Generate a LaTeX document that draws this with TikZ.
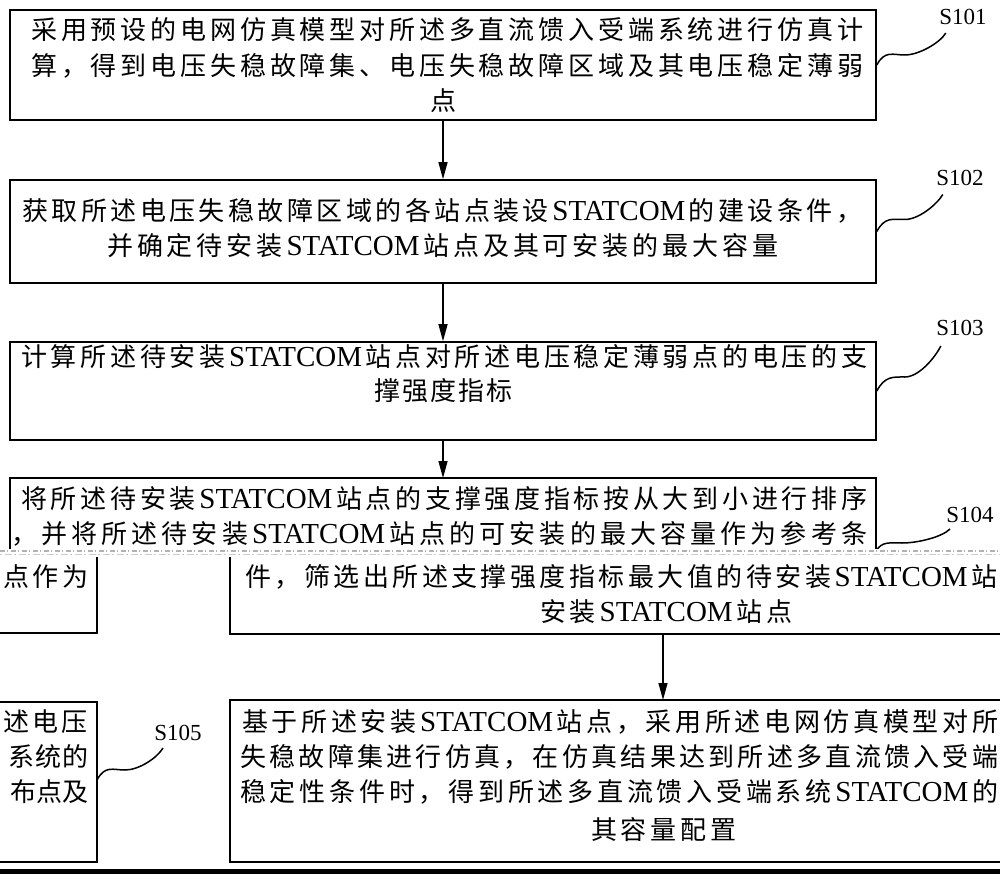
\documentclass[tikz,border=0pt]{standalone}
\usepackage{fontspec}
\setmainfont{Liberation Serif}
\newfontfamily\cjk{Noto Sans CJK SC}
\usetikzlibrary{arrows.meta}
\ExplSyntaxOn
\NewDocumentCommand\spreadline{mm}{\hbox_to_wd:nn{#1}{\tl_map_inline:nn{#2}{##1\hfil}\unskip}}
\ExplSyntaxOff
\newcommand\stc{{\rmfamily\fontsize{29}{29}\selectfont STATCOM}}
\begin{document}
\begin{tikzpicture}[x=1pt,y=-1pt,
  box/.style={draw, line width=1.6pt, inner sep=0pt},
  edge/.style={line width=1.6pt},
  ln/.style={anchor=west, inner sep=0pt, font=\cjk\fontsize{26}{26}\selectfont},
  cl/.style={anchor=center, inner sep=0pt, font=\cjk\fontsize{26}{26}\selectfont},
  lab/.style={inner sep=0pt, font=\rmfamily\fontsize{23}{23}\selectfont},
  arr/.style={line width=1.3pt, -{Triangle[length=17pt,width=9pt]}},
  sq/.style={line width=1.5pt}]
\useasboundingbox (0,0) rectangle (1000,874);
\clip (0,0) rectangle (1000,874);

% ---- box 1
\node[box, minimum width=866pt, minimum height=110pt] (b1) at (443,65) {};
\node[ln] (t11) at (31,30) {\spreadline{832pt}{采用预设的电网仿真模型对所述多直流馈入受端系统进行仿真计}};
\node[ln] (t12) at (31,66) {\spreadline{832pt}{算，得到电压失稳故障集、电压失稳故障区域及其电压稳定薄弱}};
\node[cl] (t13) at (443,101) {点};
\node[lab] (l1) at (963,17) {S101};
\draw[sq] (b1.east) .. controls +(8,-15) and +(-12,0) .. ++(28,-10) .. controls +(14,0) and +(-6,10) .. ++(41,-22);

% ---- box 2
\node[box, minimum width=866pt, minimum height=103pt] (b2) at (443,231.5) {};
\node[ln] (t21) at (22,211) {\spreadline{840pt}{获取所述电压失稳故障区域的各站点装设{\stc}的建设条件，}};
\node[ln] (t22) at (107,246) {\spreadline{671pt}{并确定待安装{\stc}站点及其可安装的最大容量}};
\node[lab] (l2) at (960,178) {S102};
\draw[sq] (b2.east) .. controls +(8,-15) and +(-12,0) .. ++(28,-12) .. controls +(14,0) and +(-6,10) .. ++(38,-25);

% ---- box 3
\node[box, minimum width=866pt, minimum height=98pt] (b3) at (443,391) {};
\node[ln] (t31) at (21,357) {\spreadline{846pt}{计算所述待安装{\stc}站点对所述电压稳定薄弱点的电压的支}};
\node[ln] (t32) at (374,391) {\spreadline{138pt}{撑强度指标}};
\node[lab] (l3) at (960,328) {S103};
\draw[sq] (b3.east) .. controls +(8,-15) and +(-12,0) .. ++(28,-14) .. controls +(14,0) and +(-6,12) .. ++(36,-31);

% ---- box 4 (upper part)
\coordinate (b4n) at (443,478);
\draw[edge] (10,552) -- (10,478) -- (876,478) -- (876,552);
\coordinate (b4e) at (876,551);
\node[ln] (t41) at (21,499) {\spreadline{846pt}{将所述待安装{\stc}站点的支撑强度指标按从大到小进行排序}};
\node[ln] (t42) at (11,534) {\spreadline{856pt}{，并将所述待安装{\stc}站点的可安装的最大容量作为参考条}};
\node[lab] (l4) at (970,515) {S104};
\draw[sq] (b4e) .. controls +(6,-10) and +(-12,0) .. ++(26,-8) .. controls +(16,0) and +(-8,8) .. ++(48,-14);

% ---- arrows (upper)
\draw[arr] (b1.south) -- (b2.north);
\draw[arr] (b2.south) -- (b3.north);
\draw[arr] (b3.south) -- (b4n);

% ---- cut band
\fill[white] (0,549) rectangle (1000,557);
\draw[gray!60, line width=1.3pt, dash pattern=on 5pt off 2pt on 1pt off 3pt] (0,551) -- (1000,551);
\draw[gray!40, line width=1.3pt, dash pattern=on 2pt off 3pt on 7pt off 2pt] (0,554.5) -- (1000,554.5);

% ---- box 4 (lower part, shifted)
\draw[edge] (97,557) -- (97,633) -- (0,633);
\draw[edge] (230,557) -- (230,634) -- (1000,634);
\node[ln] (t43a) at (3,577) {\spreadline{85pt}{点作为}};
\node[ln] (t43b) at (245,577) {\spreadline{752pt}{件，筛选出所述支撑强度指标最大值的待安装{\stc}站}};
\node[ln] (t44) at (540,612) {\spreadline{252pt}{安装{\stc}站点}};

\coordinate (b4s) at (663,634);
\coordinate (b5n) at (663,700);
\draw[arr] (b4s) -- (b5n);

% ---- box 5 (shifted)
\draw[edge] (0,702) -- (97,702) -- (97,862) -- (0,862);
\draw[edge] (1000,700) -- (230,700) -- (230,862) -- (1000,862);
\node[ln] (t51a) at (3,722) {\spreadline{84pt}{述电压}};
\node[ln] (t52a) at (8,757) {\spreadline{80pt}{系统的}};
\node[ln] (t53a) at (10,792) {\spreadline{78pt}{布点及}};
\node[ln] (t51b) at (242,722) {\spreadline{756pt}{基于所述安装{\stc}站点，采用所述电网仿真模型对所}};
\node[ln] (t52b) at (240,757) {\spreadline{758pt}{失稳故障集进行仿真，在仿真结果达到所述多直流馈入受端}};
\node[ln] (t53b) at (240,792) {\spreadline{758pt}{稳定性条件时，得到所述多直流馈入受端系统{\stc}的}};
\node[ln] (t54b) at (591,830) {\spreadline{145pt}{其容量配置}};
\node[lab] (l5) at (178,733) {S105};
\coordinate (p5) at (97,780);
\draw[sq] (p5) .. controls +(8,-15) and +(-12,0) .. ++(28,-10) .. controls +(14,0) and +(-6,10) .. ++(38,-22);

% ---- bottom bar
\fill (0,869) rectangle (1000,874);
\end{tikzpicture}
\end{document}
